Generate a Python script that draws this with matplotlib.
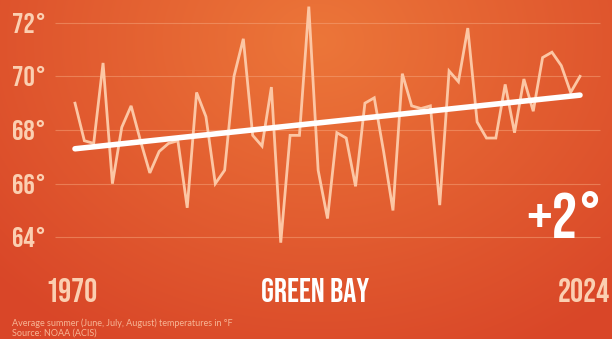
import numpy as np
import matplotlib
matplotlib.use("Agg")
import matplotlib.pyplot as plt
from matplotlib.colors import to_rgb

# Average summer temperatures, Green Bay (°F)
years = list(range(1970, 2025))
temps = [
    69.0, 67.6, 67.5, 70.5, 66.0, 68.1, 68.9, 67.6, 66.4, 67.2,
    67.5, 67.6, 65.1, 69.4, 68.5, 66.0, 66.5, 70.0, 71.4, 67.8,
    67.4, 69.6, 63.8, 67.8, 67.8, 72.6, 66.5, 64.7, 67.9, 67.7,
    65.9, 69.0, 69.2, 67.2, 65.0, 70.1, 68.9, 68.8, 68.9, 65.2,
    70.2, 69.8, 71.8, 68.3, 67.7, 67.7, 69.7, 67.9, 69.9, 68.7,
    70.7, 70.9, 70.4, 69.4, 70.0,
]
y_ticks = [64, 66, 68, 70, 72]
trend_start = 67.3
trend_rise = 2
trend_end = trend_start + trend_rise
city = "GREEN BAY"
change_label = f"+{trend_rise}°"
note_lines = [
    "Average summer (June, July, August) temperatures in °F",
    "Source: NOAA (ACIS)",
]

W, H, DPI = 612, 339, 100
fig = plt.figure(figsize=(W / DPI, H / DPI), dpi=DPI)
ax = fig.add_axes([0, 0, 1, 1])

# pixel -> data mapping
x0_px, x1_px = 75.0, 580.0
yr_per_px = (years[-1] - years[0]) / (x1_px - x0_px)
xlim = (years[0] - x0_px * yr_per_px, years[0] + (W - x0_px) * yr_per_px)
px_per_deg = (237.3 - 22.7) / 8.0
ylim = (72 - (H - 22.7) / px_per_deg, 72 + 22.7 / px_per_deg)
ax.set_xlim(*xlim)
ax.set_ylim(*ylim)
ax.axis("off")


def px_x(px):
    return years[0] + (px - x0_px) * yr_per_px


def px_y(py):
    return 72 - (py - 22.7) / px_per_deg


# warm radial background
gx, gy = np.meshgrid(np.linspace(0, 1, W), np.linspace(0, 1, H))
d = np.sqrt(((gx - 0.52) / 0.72) ** 2 + ((gy - 0.12) / 1.05) ** 2)
d = np.clip(d, 0, 1)
inner = np.array(to_rgb("#ec7639"))
outer = np.array(to_rgb("#d94628"))
img = inner[None, None, :] * (1 - d[..., None]) + outer[None, None, :] * d[..., None]
ax.imshow(img, extent=(xlim[0], xlim[1], ylim[0], ylim[1]), aspect="auto",
          origin="upper", zorder=0, interpolation="bilinear")

# faint gridlines
ax.hlines(y_ticks, px_x(55), px_x(600), colors="#f6a67c", linewidth=0.8, alpha=0.5, zorder=1)

peach = "#fbcfb1"
display = ["Bebas Neue", "DejaVu Sans"]

# y labels
for t in y_ticks:
    ax.text(px_x(12), t, f"{t}°", ha="left", va="center", fontsize=20.5,
            color=peach, family=display, zorder=3)

# yearly line
ax.plot(years, temps, color="#fcc6a4", linewidth=2.0, solid_joinstyle="miter", zorder=2)

# trend line
ax.plot([years[0], years[-1]], [trend_start, trend_end], color="white",
        linewidth=4.0, solid_capstyle="round", zorder=4)

# change label
ax.text(px_x(603), px_y(238), change_label, ha="right", va="baseline", fontsize=46,
        color="white", family=display, zorder=5)

# bottom labels
base_y = px_y(302)
ax.text(px_x(45), base_y, str(years[0]), ha="left", va="baseline", fontsize=23.5,
        color=peach, family=display)
ax.text(px_x(610), base_y, str(years[-1]), ha="right", va="baseline", fontsize=23.5,
        color=peach, family=display)
ax.text(px_x(315), base_y, city, ha="center", va="baseline", fontsize=23.5,
        color="white", family=display)

# notes
for i, line in enumerate(note_lines):
    ax.text(px_x(12), px_y(326 + i * 9.5), line, ha="left", va="baseline",
            fontsize=6.5, color="#f7b595", family=["Lato", "DejaVu Sans"])

fig.savefig("out.png", dpi=DPI)
